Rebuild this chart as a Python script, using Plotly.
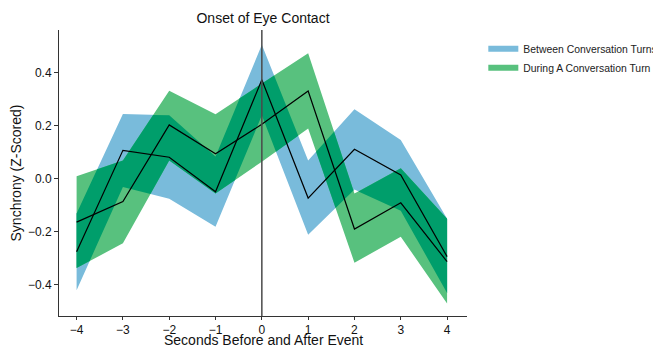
import numpy as np
import plotly.graph_objects as go

seconds = [-4, -3, -2, -1, 0, 1, 2, 3, 4]

between_mean = [-0.275, 0.108, 0.082, -0.048, 0.374, -0.072, 0.112, 0.015, -0.293]
between_lo = [-0.42, -0.03, -0.075, -0.18, 0.24, -0.21, -0.04, -0.12, -0.43]
between_hi = [-0.13, 0.245, 0.24, 0.085, 0.506, 0.07, 0.263, 0.147, -0.15]

during_mean = [-0.163, -0.085, 0.204, 0.095, 0.206, 0.332, -0.189, -0.09, -0.312]
during_lo = [-0.336, -0.243, 0.07, -0.055, 0.065, 0.19, -0.316, -0.218, -0.47]
during_hi = [0.01, 0.07, 0.333, 0.244, 0.36, 0.474, -0.055, 0.04, -0.15]

tick_vals_y = [-0.4, -0.2, 0.0, 0.2, 0.4]

C_BLUE = "#79bbdb"
C_GREEN = "#58c17e"
C_OVER = "#009e6b"

# the page body has an 8px default margin; size the figure so it fills the window
PAGE_W, PAGE_H, BODY = 661, 350, 8
FIG_W, FIG_H = PAGE_W - BODY, PAGE_H - BODY


def band_polygon(x, lo, hi):
    xs = list(x) + list(x)[::-1]
    ys = list(hi) + list(lo)[::-1]
    return xs, ys


def overlap_band(x, lo1, hi1, lo2, hi2):
    x = np.asarray(x, float)
    fs = [np.asarray(a, float) for a in (lo1, hi1, lo2, hi2)]
    pts = []
    for i in range(len(x) - 1):
        x0, x1 = x[i], x[i + 1]
        brk = [x0]
        for a in range(4):
            for b in range(a + 1, 4):
                d0 = fs[a][i] - fs[b][i]
                d1 = fs[a][i + 1] - fs[b][i + 1]
                if d0 * d1 < 0:
                    t = d0 / (d0 - d1)
                    brk.append(x0 + t * (x1 - x0))
        pts.extend(sorted(set(brk)))
    pts.append(x[-1])
    pts = np.array(sorted(set(pts)))
    l1 = np.interp(pts, x, fs[0]); h1 = np.interp(pts, x, fs[1])
    l2 = np.interp(pts, x, fs[2]); h2 = np.interp(pts, x, fs[3])
    lo = np.maximum(l1, l2)
    hi = np.minimum(h1, h2)
    hi = np.where(hi < lo, lo, hi)
    return pts, lo, hi


fig = go.Figure()

bx, by = band_polygon(seconds, between_lo, between_hi)
fig.add_trace(go.Scatter(x=bx, y=by, fill="toself", fillcolor=C_BLUE, mode="none",
                         name="Between Conversation Turns", hoverinfo="skip"))
gx, gy = band_polygon(seconds, during_lo, during_hi)
fig.add_trace(go.Scatter(x=gx, y=gy, fill="toself", fillcolor=C_GREEN, mode="none",
                         name="During A Conversation Turn", hoverinfo="skip"))
ox, olo, ohi = overlap_band(seconds, between_lo, between_hi, during_lo, during_hi)
px_, py_ = band_polygon(ox, olo, ohi)
fig.add_trace(go.Scatter(x=px_, y=py_, fill="toself", fillcolor=C_OVER, mode="none",
                         showlegend=False, hoverinfo="skip"))

fig.add_trace(go.Scatter(x=seconds, y=between_mean, mode="lines",
                         line=dict(color="black", width=1.2), showlegend=False))
fig.add_trace(go.Scatter(x=seconds, y=during_mean, mode="lines",
                         line=dict(color="black", width=1.2), showlegend=False))

fig.add_vline(x=0, line=dict(color="#4a4a4a", width=1.5))

fig.add_annotation(text="Seconds Before and After Event", xref="paper", yref="paper",
                   x=0.5, y=0, xanchor="center", yanchor="bottom", yshift=-33,
                   borderpad=0, showarrow=False, font=dict(size=14, color="#111111"))

fig.update_layout(
    width=FIG_W, height=FIG_H,
    margin=dict(l=59 - BODY, r=194, t=30 - BODY, b=34, autoexpand=False),
    paper_bgcolor="white", plot_bgcolor="white",
    font=dict(family="Liberation Sans, Arial, sans-serif", size=12, color="#111111"),
    title=dict(text="Onset of Eye Contact", x=0.5, xref="paper",
               y=1 - (18 - BODY) / FIG_H,
               yref="container", yanchor="middle", xanchor="center",
               font=dict(size=14, color="#111111")),
    showlegend=True,
    legend=dict(x=1.04, xanchor="left", y=0.985, yanchor="top",
                font=dict(size=10.4, color="#222222"), bgcolor="rgba(0,0,0,0)",
                tracegroupgap=0, itemwidth=30),
    xaxis=dict(range=[-4.38, 4.43], tickvals=seconds, ticks="outside", ticklen=3,
               tickcolor="#333333", showline=True, linecolor="#333333", linewidth=1,
               showgrid=False, zeroline=False, automargin=False,
               tickfont=dict(size=12)),
    yaxis=dict(range=[-0.517, 0.562], tickvals=tick_vals_y, tickformat=".1f",
               ticks="outside", ticklen=4, tickcolor="#333333", showline=True,
               linecolor="#333333", linewidth=1, showgrid=False, zeroline=False,
               automargin=False, tickfont=dict(size=12),
               title=dict(text="Synchrony (Z-Scored)", font=dict(size=14), standoff=10)),
)

fig.write_html("out.html")
